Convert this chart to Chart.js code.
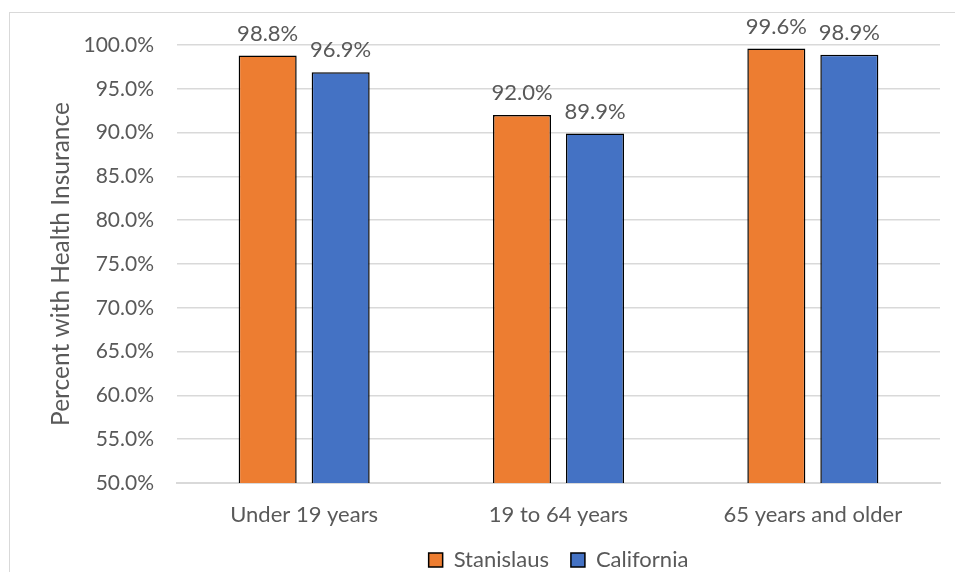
<!DOCTYPE html>
<html>
<head>
<meta charset="utf-8">
<script src="https://cdn.jsdelivr.net/npm/chart.js@4/dist/chart.umd.min.js"></script>
<style>
  html, body { margin: 0; padding: 0; background: #fff; overflow: hidden; }
  #frame { position: absolute; left: 9px; top: 12px; width: 990px; height: 600px; border: 1px solid #d9d9d9; box-sizing: border-box; }
  #wrap { position: absolute; left: 0; top: 0; width: 955px; height: 572px; }
</style>
</head>
<body>
<div id="frame"></div>
<div id="wrap"><canvas id="c" width="955" height="572"></canvas></div>
<script>
const categories = ["Under 19 years", "19 to 64 years", "65 years and older"];
const stanislaus = [98.8, 92.0, 99.6];
const california = [96.9, 89.9, 98.9];
const seriesNames = ["Stanislaus", "California"];
const yTitle = "Percent with Health Insurance";

const FONT = "Lato, 'Open Sans', sans-serif";
const TXT = "#595959";

const labelPlugin = {
  id: 'barLabels',
  afterDatasetsDraw(chart) {
    const ctx = chart.ctx;
    ctx.save();
    ctx.font = "22px " + FONT;
    ctx.fillStyle = TXT;
    ctx.textAlign = 'center';
    ctx.textBaseline = 'bottom';
    chart.data.datasets.forEach((ds, di) => {
      const meta = chart.getDatasetMeta(di);
      meta.data.forEach((bar, i) => {
        ctx.fillText(ds.data[i].toFixed(1) + '%', bar.x, bar.y - 11);
      });
    });
    ctx.restore();
  }
};

new Chart(document.getElementById('c'), {
  type: 'bar',
  data: {
    labels: categories,
    datasets: [
      { label: seriesNames[0], data: stanislaus, backgroundColor: '#ED7D31', borderColor: '#000', borderWidth: 1.5, categoryPercentage: 0.574, barPercentage: 0.795 },
      { label: seriesNames[1], data: california, backgroundColor: '#4472C4', borderColor: '#000', borderWidth: 1.5, categoryPercentage: 0.574, barPercentage: 0.795 }
    ]
  },
  options: {
    responsive: false,
    animation: false,
    layout: { padding: { left: 40, right: 15, top: 45, bottom: -9 } },
    plugins: {
      legend: {
        position: 'bottom',
        fullSize: false,
        labels: { boxWidth: 14, boxHeight: 14, color: TXT, font: { family: FONT, size: 22 }, padding: 22 }
      },
      tooltip: { enabled: false }
    },
    scales: {
      y: {
        min: 50, max: 100,
        ticks: { stepSize: 5, color: TXT, font: { family: FONT, size: 21 }, padding: 23,
          callback: v => Number(v).toFixed(1) + '%' },
        grid: { color: '#d9d9d9', lineWidth: 1.5, drawTicks: false },
        border: { display: false },
        title: { display: true, text: yTitle, color: TXT, font: { family: FONT, size: 24.5 }, padding: { top: 6, bottom: 0 } },
        afterFit(scale) { scale.width = 137; }
      },
      x: {
        ticks: { color: TXT, font: { family: FONT, size: 22 }, padding: 19 },
        grid: { display: false, drawTicks: false },
        border: { display: true, color: '#d9d9d9', width: 2 },
        afterFit(scale) { scale.height = 44; }
      }
    }
  },
  plugins: [labelPlugin]
});
</script>
</body>
</html>
